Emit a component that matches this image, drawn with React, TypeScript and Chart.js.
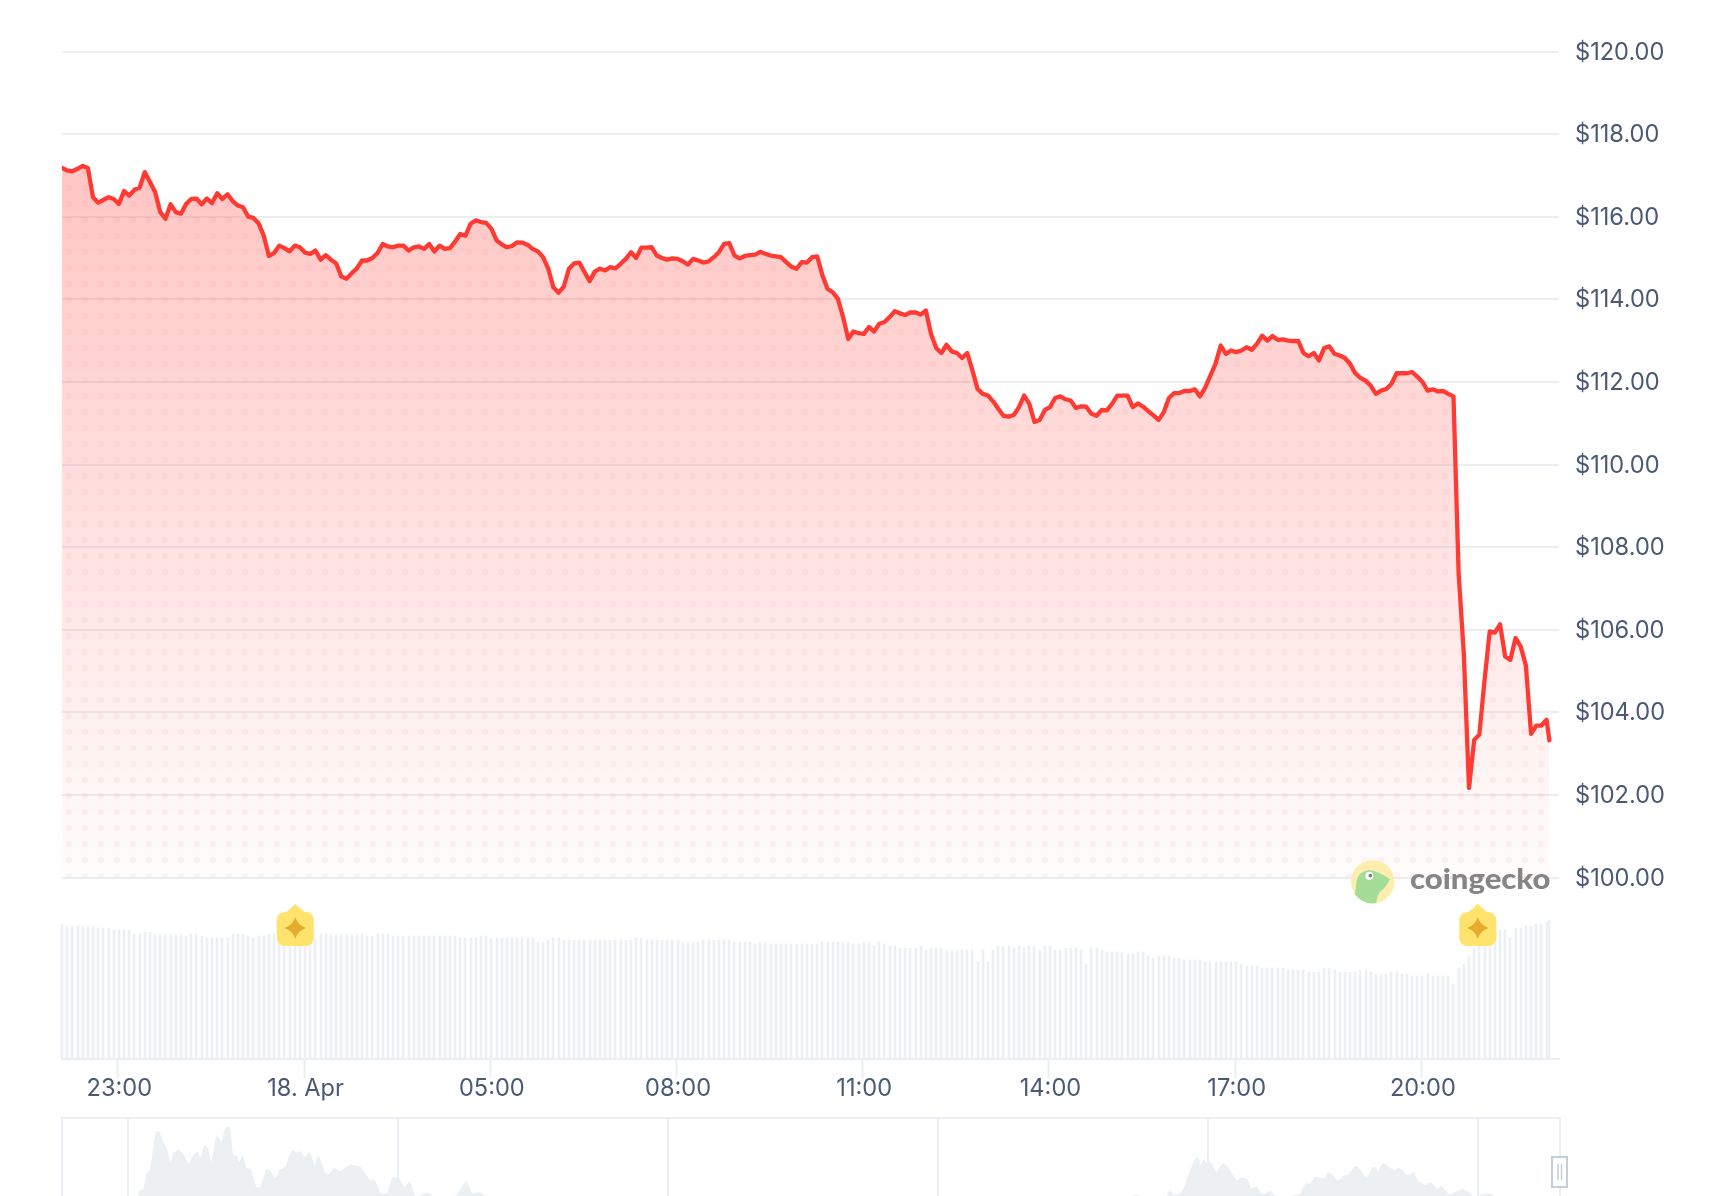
import React, { useEffect, useRef } from "react";
import { Chart, registerables } from "chart.js";

Chart.register(...registerables);

// Price chart values (USD), one every five minutes
const prices = [
  117.18,117.12,117.10,117.16,117.23,117.18,116.47,116.34,116.41,116.47,116.43,116.31,116.62,116.51,116.65,116.70,117.08,116.84,116.60,116.11,
  115.95,116.30,116.11,116.07,116.31,116.43,116.44,116.30,116.44,116.33,116.57,116.43,116.54,116.38,116.27,116.23,116.00,115.97,115.84,115.54,
  115.05,115.12,115.30,115.24,115.16,115.30,115.26,115.13,115.10,115.18,114.96,115.07,114.96,114.87,114.55,114.50,114.63,114.75,114.94,114.94,
  115.00,115.12,115.34,115.28,115.26,115.30,115.30,115.18,115.26,115.28,115.22,115.34,115.16,115.30,115.22,115.24,115.40,115.58,115.54,115.83,
  115.91,115.87,115.85,115.71,
  115.43,115.33,115.26,115.29,115.38,115.37,115.32,115.22,115.16,115.02,114.74,114.29,114.16,114.31,114.74,114.87,114.89,114.66,114.44,114.67,
  114.74,114.70,114.78,114.75,114.86,114.98,115.14,115.00,115.25,115.25,115.26,115.06,115.00,114.96,114.99,114.98,114.92,114.84,114.98,114.94,
  114.89,114.92,115.02,115.14,115.34,115.36,115.06,114.99,115.05,115.07,115.08,115.15,115.10,115.06,115.04,115.02,114.90,114.79,114.74,114.90,
  114.89,115.02,115.04,114.58,114.25,114.17,114.01,113.57,113.04,113.22,113.18,113.16,113.33,113.22,113.41,113.45,113.57,113.71,113.66,113.62,
  113.68,113.68,113.63,113.73,113.16,
  112.82,112.70,112.90,112.74,112.70,112.58,112.70,112.28,111.83,111.71,111.67,111.53,111.35,111.18,111.16,111.20,111.39,111.67,111.47,111.03,
  111.08,111.32,111.39,111.61,111.65,111.58,111.55,111.37,111.41,111.40,111.23,111.18,111.32,111.31,111.47,111.67,111.67,111.67,111.39,111.48,
  111.40,111.29,111.19,111.08,111.27,111.61,111.73,111.73,111.78,111.78,111.82,111.65,111.86,112.15,112.44,112.88,112.68,112.76,112.72,112.76,
  112.84,112.78,112.92,113.12,113.00,113.11,113.02,113.03,113.00,112.99,112.99,112.70,112.62,112.70,112.52,112.82,112.86,112.68,112.64,112.58,
  112.44,112.21,112.10,112.03,
  111.91,111.71,111.79,111.83,111.95,112.21,112.21,112.21,112.24,112.13,112.00,111.79,111.82,111.77,111.78,111.71,111.65,107.35,105.42,102.17,
  103.33,103.46,104.77,105.96,105.93,106.13,105.35,105.27,105.80,105.59,105.13,103.48,103.68,103.68,103.82,103.32,
];

// Volume bars, relative height
const volumes = [
  135,133,133,133,133,133,133,131,131,131,129,129,129,129,125,125,127,127,125,125,125,125,125,125,123,125,125,123,121,121,121,121,121,125,125,125,123,121,123,123,125,125,125,125,125,125,125,125,125,121,125,125,125,125,125,125,125,125,125,123,123,125,125,125,123,123,123,123,123,123,123,123,123,123,123,123,123,121,121,121,121,123,123,121,121,121,121,121,121,121,121,121,117,117,119,121,121,
  119,119,119,119,119,119,119,119,119,119,119,119,119,119,121,121,119,119,119,119,119,119,119,117,117,117,117,119,119,119,119,119,119,117,117,117,117,115,117,117,115,115,115,115,115,115,115,115,115,115,117,117,117,117,117,117,115,115,117,117,113,117,115,113,113,111,111,111,111,113,109,111,111,111,109,109,109,109,109,109,97,109,97,109,113,113,113,111,113,111,113,113,109,113,113,109,
  109,111,111,111,109,95,111,111,109,107,107,107,107,105,105,107,107,103,101,103,103,103,101,101,99,99,99,99,97,97,97,97,97,97,97,95,93,93,93,91,91,91,91,91,89,89,89,89,87,87,87,91,91,89,87,87,87,87,89,89,87,85,85,85,87,87,85,85,83,83,83,85,83,83,83,83,75,91,95,103,111,113,113,115,127,129,129,121,131,131,133,133,135,135,137,139,
];

const startMinute = -114;
const stepMinutes = 5;
const lastMinute = 1323.7;

const xTickMinutes = [-60, 120, 300, 480, 660, 840, 1020, 1200];
const xTickLabels = ["23:00", "18. Apr", "05:00", "08:00", "11:00", "14:00", "17:00", "20:00"];
const yTickValues = [100, 102, 104, 106, 108, 110, 112, 114, 116, 118, 120];
const eventMinutes = [111.5, 1254.5];

// Overview strip along the bottom
const navTimes = [
  160,165,172,178,185,192,198,205,212,220,228,235,245,255,265,275,283,290,298,305,312,320,325,333,340,350,357,365,370,376,385,393,405,412,425,432,445,452,465,472,480,488,495,505,515,525,533,548,555,565,578,598,620,632,640,650,662,675,685,698,710,722,732,740,757,770,815,838,850,865,878,
  2207,2219,2232,2282,2289,2297,2307,2317,2325,2335,2343,2349,2353,2359,2367,2373,2385,2399,2415,2427,2435,2449,2457,2469,2479,2497,2507,2537,2557,2569,2579,2589,2607,2615,2622,2635,2647,2657,2672,2677,2685,2695,2707,2712,2719,2729,2742,2752,2762,2779,2792,2802,2817,2827,2842,2849,2865,2882,2895,2909,2915,2925,2932,2949,2959,
];
const navValues = [
  0,5.7,7,22.7,26,47.7,64.3,64.3,55,47.7,34.3,43.7,46,41,32.7,41,43.7,38.3,51,47.7,34.3,56,60.3,54.3,67.7,69.3,41,40.3,34.3,41,27.7,27,9.3,8.7,26,26,17.7,26,29.3,40.3,46,43.7,45,39.3,44.3,31,40.3,22.7,21.7,27.7,25,31,29.3,21,16,15.3,2.7,3.7,17.7,18.7,9.3,14.3,1,0,3.7,0,0,15.3,2.7,3.7,0,
  0,1,0,0,5.7,1.7,1.7,7,17.7,31,38.3,37.7,31,37,31.7,34.3,24.3,33,25,16,18.3,17,7.7,9.3,2.3,5,0,0,2.3,12.3,12.7,19.3,17.7,23.7,22.7,15.3,20.3,21.7,30,29.3,24.3,18.3,28.3,29.3,25,33,28.7,26,28.3,21,23.7,15,11,13.7,7,10.3,1.7,5,7,2.7,0,0,1.7,2.7,0,
];
const navGridTimes = [140, 697, 1254, 1811, 2368, 2925];

const FONT = "Inter, 'Noto Sans', sans-serif";
const LABEL = "#4a5a76";
const GRID = "#ebeff3";
const RED = "#ff3a33";

const timeAt = (i: number) => (i === prices.length - 1 ? lastMinute : startMinute + i * stepMinutes);

function dotPattern(ctx: CanvasRenderingContext2D) {
  const tile = document.createElement("canvas");
  tile.width = 16;
  tile.height = 16;
  const t = tile.getContext("2d")!;
  t.fillStyle = "rgba(255,58,51,0.055)";
  t.beginPath();
  t.arc(5, 12, 3.2, 0, Math.PI * 2);
  t.fill();
  return ctx.createPattern(tile, "repeat")!;
}

// keep the thin volume bars on whole pixels so they stay crisp
const crispBars = {
  id: "crispBars",
  beforeDatasetsDraw(chart: any) {
    for (const el of chart.getDatasetMeta(0).data) {
      el.x = Math.round(el.x);
      el.y = Math.round(el.y);
    }
  },
};

const decorations = {
  id: "decorations",
  afterDraw(chart: any) {
    const c: CanvasRenderingContext2D = chart.ctx;
    const sx = chart.scales.x;
    // event flags
    for (const m of eventMinutes) {
      const x = sx.getPixelForValue(m);
      const yTop = 904;
      c.save();
      c.fillStyle = "#ffe36c";
      c.beginPath();
      c.moveTo(x, yTop);
      c.lineTo(x + 9, yTop + 8);
      c.lineTo(x + 10, yTop + 8);
      c.arcTo(x + 18.5, yTop + 8, x + 18.5, yTop + 16, 8);
      c.lineTo(x + 18.5, yTop + 34);
      c.arcTo(x + 18.5, yTop + 42, x + 10, yTop + 42, 8);
      c.lineTo(x - 10, yTop + 42);
      c.arcTo(x - 18.5, yTop + 42, x - 18.5, yTop + 34, 8);
      c.lineTo(x - 18.5, yTop + 16);
      c.arcTo(x - 18.5, yTop + 8, x - 10, yTop + 8, 8);
      c.lineTo(x - 9, yTop + 8);
      c.closePath();
      c.fill();
      const cy = yTop + 24;
      const r = 10.7;
      const k = 2.6;
      c.fillStyle = "#e6aa2e";
      c.beginPath();
      c.moveTo(x, cy - r);
      c.quadraticCurveTo(x + k, cy - k, x + r, cy);
      c.quadraticCurveTo(x + k, cy + k, x, cy + r);
      c.quadraticCurveTo(x - k, cy + k, x - r, cy);
      c.quadraticCurveTo(x - k, cy - k, x, cy - r);
      c.closePath();
      c.fill();
      c.restore();
    }
    // watermark
    const lx = 1340;
    const ly = 850;
    const p = (a: number, b: number): [number, number] => [lx + a / 3, ly + b / 3];
    c.save();
    c.fillStyle = "#fdeeb0";
    c.beginPath();
    c.arc(1372.7, 881.7, 21.7, 0, Math.PI * 2);
    c.fill();
    c.clip();
    c.fillStyle = "#a4dd95";
    c.beginPath();
    c.moveTo(...p(30, 130));
    c.lineTo(...p(45, 130));
    c.lineTo(...p(50, 92));
    c.quadraticCurveTo(...p(55, 66), ...p(85, 60));
    c.quadraticCurveTo(...p(115, 62), ...p(150, 88));
    c.quadraticCurveTo(...p(140, 110), ...p(122, 124));
    c.quadraticCurveTo(...p(110, 135), ...p(108, 170));
    c.lineTo(...p(30, 170));
    c.closePath();
    c.fill();
    c.fillStyle = "#ffffff";
    c.beginPath();
    c.arc(...p(88, 77), 4, 0, Math.PI * 2);
    c.fill();
    c.fillStyle = "#7c7c7c";
    c.beginPath();
    c.arc(...p(91, 77), 1.8, 0, Math.PI * 2);
    c.fill();
    c.restore();
    c.save();
    c.fillStyle = "#858585";
    c.font = `900 28px Lato, ${FONT}`;
    c.textAlign = "left";
    c.textBaseline = "alphabetic";
    const label = "coingecko";
    const w = c.measureText(label).width;
    c.translate(1410, 888.5);
    c.scale(140.5 / w, 1);
    c.fillText(label, 0, 0);
    c.restore();
  },
};

const navFrame = {
  id: "navFrame",
  afterDraw(chart: any) {
    const c: CanvasRenderingContext2D = chart.ctx;
    const { left, right, top, bottom } = chart.chartArea;
    c.save();
    c.strokeStyle = GRID;
    c.lineWidth = 2;
    c.beginPath();
    c.moveTo(left, bottom);
    c.lineTo(left, top);
    c.lineTo(right, top);
    c.lineTo(right, bottom);
    c.stroke();
    // handle
    const hy = 1157 - 1110;
    c.fillStyle = "#ffffff";
    c.strokeStyle = "#c3cedb";
    c.fillRect(right - 8, hy, 15, 30);
    c.strokeRect(right - 8, hy, 15, 30);
    c.lineWidth = 1.5;
    c.beginPath();
    c.moveTo(right - 2, hy + 7);
    c.lineTo(right - 2, hy + 23);
    c.moveTo(right + 1.5, hy + 7);
    c.lineTo(right + 1.5, hy + 23);
    c.stroke();
    c.restore();
  },
};

export default function App() {
  const mainRef = useRef<HTMLCanvasElement>(null);
  const navRef = useRef<HTMLCanvasElement>(null);

  useEffect(() => {
    const ctx = mainRef.current!.getContext("2d")!;
    const gradient = ctx.createLinearGradient(0, 167, 0, 877);
    gradient.addColorStop(0, "rgba(255,58,51,0.29)");
    gradient.addColorStop(1, "rgba(255,58,51,0.01)");
    const pts = prices.map((y, i) => ({ x: timeAt(i), y }));
    const vols = volumes.map((y, i) => ({ x: timeAt(i), y }));

    const main = new Chart(ctx, {
      type: "line",
      data: {
        datasets: [
          {
            type: "bar",
            data: vols as any,
            yAxisID: "yVol",
            backgroundColor: "#ecf0f4",
            barThickness: 2,
            grouped: false,
            clip: false,
            order: 4,
          } as any,
          {
            data: pts as any,
            yAxisID: "y",
            borderWidth: 0,
            borderColor: "transparent",
            pointRadius: 0,
            backgroundColor: gradient,
            fill: { value: 100 },
            order: 3,
          },
          {
            data: pts as any,
            yAxisID: "y",
            borderWidth: 0,
            borderColor: "transparent",
            pointRadius: 0,
            backgroundColor: dotPattern(ctx),
            fill: { value: 100 },
            order: 2,
          },
          {
            data: pts as any,
            yAxisID: "y",
            borderColor: RED,
            borderWidth: 4.3,
            borderJoinStyle: "round",
            borderCapStyle: "round",
            pointRadius: 0,
            fill: false,
            tension: 0,
            order: 1,
          },
        ],
      },
      options: {
        responsive: false,
        animation: false,
        layout: { padding: { left: 62, top: 51.5, right: 0, bottom: 0 } },
        plugins: { legend: { display: false }, tooltip: { enabled: false } },
        scales: {
          x: {
            type: "linear",
            offset: false,
            min: startMinute,
            max: 1333,
            afterBuildTicks: (s: any) => {
              s.ticks = xTickMinutes.map((value) => ({ value }));
            },
            afterFit: (s: any) => {
              s.height = 51;
            },
            grid: {
              offset: false,
              drawOnChartArea: false,
              drawTicks: true,
              tickLength: 19,
              tickColor: GRID,
              tickWidth: 2,
            },
            border: { color: GRID, width: 2 },
            ticks: {
              autoSkip: false,
              maxRotation: 0,
              padding: -1,
              labelOffset: 1.5,
              color: LABEL,
              font: { family: FONT, size: 23.6, lineHeight: 1 },
              callback: (v: any) => xTickLabels[xTickMinutes.indexOf(Number(v))] ?? "",
            },
          },
          y: {
            position: "right",
            min: 95.606,
            max: 120,
            afterBuildTicks: (s: any) => {
              s.ticks = yTickValues.map((value) => ({ value }));
            },
            afterFit: (s: any) => {
              s.width = 167;
            },
            grid: { color: GRID, lineWidth: 2, drawTicks: false },
            border: { display: false },
            ticks: {
              padding: 16,
              labelOffset: 1,
              color: LABEL,
              font: { family: FONT, size: 23.6, lineHeight: 1 },
              callback: (v: any) => `$${Number(v).toFixed(2)}`,
            },
          },
          yVol: {
            display: false,
            position: "left",
            min: 0,
            max: 1007.5,
          },
        },
      },
      plugins: [crispBars, decorations],
    } as any);

    const navCtx = navRef.current!.getContext("2d")!;
    const nav = new Chart(navCtx, {
      type: "line",
      data: {
        datasets: [
          {
            data: navTimes.map((x, i) => ({ x, y: navValues[i] })) as any,
            borderWidth: 0,
            borderColor: "transparent",
            backgroundColor: "#ecf0f3",
            pointRadius: 0,
            fill: "origin",
            tension: 0.2,
          },
        ],
      },
      options: {
        responsive: false,
        animation: false,
        layout: { padding: { left: 62, top: 8, right: 166, bottom: 0 } },
        plugins: { legend: { display: false }, tooltip: { enabled: false } },
        scales: {
          x: {
            type: "linear",
            min: 4,
            max: 3094,
            afterBuildTicks: (s: any) => {
              s.ticks = navGridTimes.map((value) => ({ value }));
            },
            afterFit: (s: any) => {
              s.height = 0;
            },
            grid: { color: GRID, lineWidth: 2, drawTicks: false },
            border: { display: false },
            ticks: { display: false },
          },
          y: { display: false, min: 0, max: 78 },
        },
      },
      plugins: [navFrame],
    } as any);

    return () => {
      main.destroy();
      nav.destroy();
    };
  }, []);

  return (
    <div style={{ position: "absolute", left: 0, top: 0, width: 1726, height: 1196, background: "#fff", overflow: "hidden" }}>
      <canvas ref={mainRef} width={1726} height={1110} style={{ position: "absolute", left: 0, top: 0, display: "block" }} />
      <canvas ref={navRef} width={1726} height={86} style={{ position: "absolute", left: 0, top: 1110, display: "block" }} />
    </div>
  );
}
